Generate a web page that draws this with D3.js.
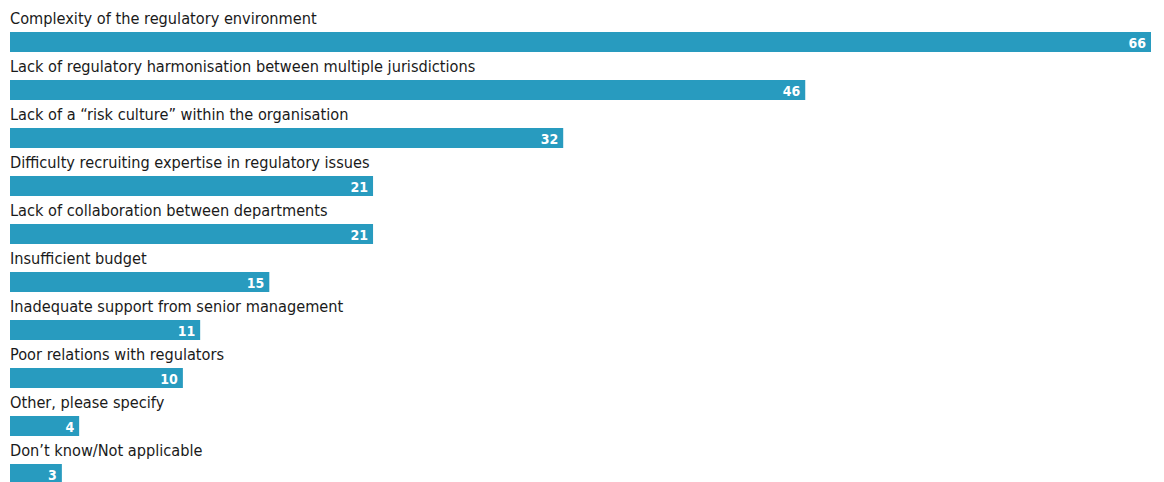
<!DOCTYPE html>
<html>
<head>
<meta charset="utf-8">
<script src="https://cdn.jsdelivr.net/npm/d3@7"></script>
<style>
  html, body { margin: 0; padding: 0; background: #fff; }
  svg { display: block; }
</style>
</head>
<body>
<svg id="chart" width="1164" height="482"></svg>
<script>
const categories = [
  "Complexity of the regulatory environment",
  "Lack of regulatory harmonisation between multiple jurisdictions",
  "Lack of a \u201crisk culture\u201d within the organisation",
  "Difficulty recruiting expertise in regulatory issues",
  "Lack of collaboration between departments",
  "Insufficient budget",
  "Inadequate support from senior management",
  "Poor relations with regulators",
  "Other, please specify",
  "Don\u2019t know/Not applicable"
];
const values = [66, 46, 32, 21, 21, 15, 11, 10, 4, 3];

const svg = d3.select("#chart");
const marginLeft = 10, plotRight = 1151;
const firstBarY = 32, rowStep = 48, barH = 20;

const x = d3.scaleLinear().domain([0, 66]).range([marginLeft, plotRight]);
const y = d3.scaleLinear().domain([0, 1]).range([firstBarY, firstBarY + rowStep]);

const rows = svg.selectAll("g.row")
  .data(categories.map((c, i) => ({ c, v: values[i], i })))
  .join("g").attr("class", "row");

// category label above each bar
rows.append("text")
  .attr("x", marginLeft)
  .attr("y", d => y(d.i) - 8)
  .attr("font-family", "'DejaVu Sans Condensed', 'DejaVu Sans', sans-serif")
  .attr("font-size", 16.2)
  .attr("fill", "#1a1a1a")
  .text(d => d.c);

rows.append("rect")
  .attr("x", x(0))
  .attr("y", d => y(d.i))
  .attr("width", d => x(d.v) - x(0))
  .attr("height", barH)
  .attr("fill", "#289bbf");

// value inside the bar end
rows.append("text")
  .attr("x", d => x(d.v) - 5)
  .attr("y", d => y(d.i) + 15.5)
  .attr("text-anchor", "end")
  .attr("font-family", "'DejaVu Sans Condensed', 'DejaVu Sans', sans-serif")
  .attr("font-weight", "bold")
  .attr("font-size", 14)
  .attr("fill", "#fff")
  .text(d => d.v);
</script>
</body>
</html>
